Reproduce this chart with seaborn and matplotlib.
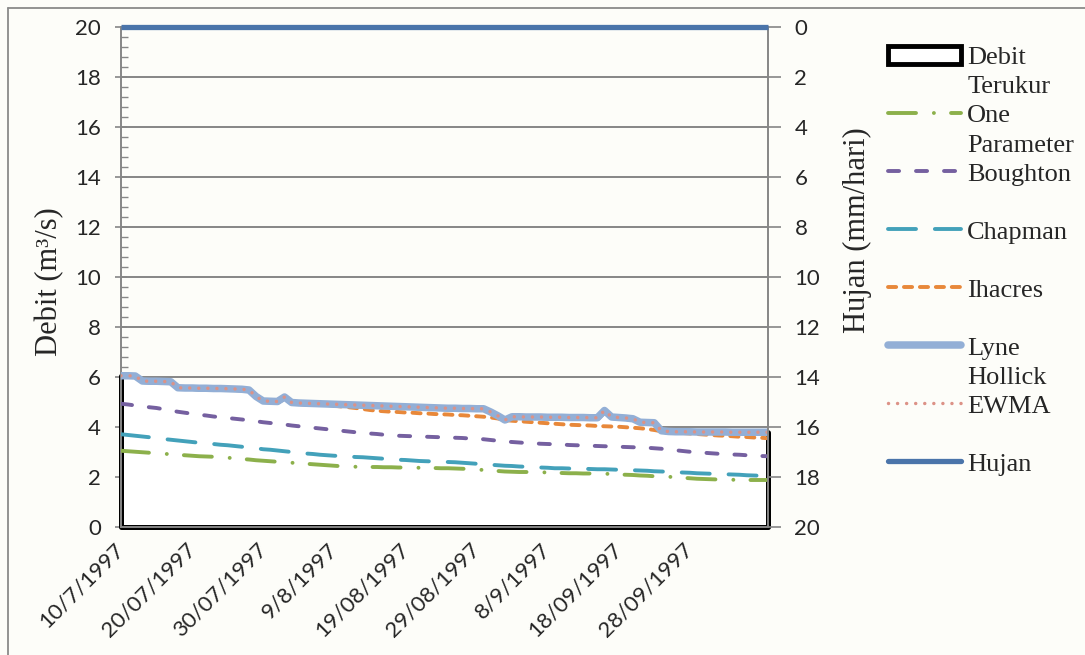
import numpy as np
import pandas as pd
import matplotlib
matplotlib.use("Agg")
import matplotlib.pyplot as plt
import seaborn as sns
from matplotlib.lines import Line2D
from matplotlib.patches import Patch
from matplotlib.ticker import MultipleLocator

# ---------------- data ----------------
start_date = "1997-07-10"
n_days = 92
tick_labels = ["10/7/1997", "20/07/1997", "30/07/1997", "9/8/1997", "19/08/1997",
               "29/08/1997", "8/9/1997", "18/09/1997", "28/09/1997"]

lyne_hollick = [6.05, 6.05, 6.04, 5.84, 5.83, 5.83, 5.82, 5.81, 5.57, 5.56,
                5.56, 5.55, 5.55, 5.54, 5.54, 5.53, 5.52, 5.51, 5.48, 5.22,
                5.04, 5.03, 5.02, 5.20, 4.98, 4.96, 4.95, 4.94, 4.93, 4.92,
                4.91, 4.90, 4.89, 4.88, 4.87, 4.86, 4.85, 4.84, 4.83, 4.82,
                4.81, 4.80, 4.79, 4.78, 4.77, 4.76, 4.75, 4.75, 4.74, 4.74,
                4.73, 4.73, 4.60, 4.45, 4.28, 4.41, 4.41, 4.40, 4.40, 4.40,
                4.39, 4.39, 4.39, 4.38, 4.38, 4.38, 4.37, 4.37, 4.66, 4.40,
                4.38, 4.36, 4.33, 4.19, 4.18, 4.17, 3.85, 3.82, 3.81, 3.81,
                3.81, 3.80, 3.80, 3.80, 3.80, 3.80, 3.79, 3.79, 3.79, 3.79,
                3.79, 3.79]
# observed discharge and EWMA coincide with Lyne Hollick in the picture
debit_terukur = list(lyne_hollick)
ewma = list(lyne_hollick)

ihacres = [6.05, 6.05, 6.04, 5.84, 5.83, 5.83, 5.82, 5.81, 5.57, 5.56,
           5.56, 5.55, 5.55, 5.54, 5.54, 5.53, 5.52, 5.51, 5.48, 5.22,
           5.04, 5.03, 5.02, 5.20, 4.98, 4.96, 4.95, 4.94, 4.93, 4.92,
           4.85, 4.82, 4.79, 4.76, 4.72, 4.68, 4.65, 4.63, 4.61, 4.60,
           4.58, 4.57, 4.55, 4.54, 4.52, 4.51, 4.50, 4.48, 4.47, 4.45,
           4.43, 4.41, 4.38, 4.34, 4.28, 4.25, 4.23, 4.21, 4.19, 4.17,
           4.15, 4.13, 4.11, 4.09, 4.08, 4.07, 4.06, 4.04, 4.03, 4.02,
           4.01, 3.99, 3.97, 3.95, 3.92, 3.88, 3.83, 3.80, 3.78, 3.76,
           3.74, 3.72, 3.70, 3.68, 3.66, 3.65, 3.63, 3.61, 3.60, 3.58,
           3.57, 3.55]

boughton = [4.93, 4.90, 4.86, 4.83, 4.79, 4.76, 4.71, 4.66, 4.61, 4.57,
            4.53, 4.49, 4.46, 4.42, 4.39, 4.36, 4.33, 4.30, 4.27, 4.23,
            4.19, 4.16, 4.13, 4.10, 4.06, 4.03, 4.00, 3.97, 3.94, 3.91,
            3.88, 3.85, 3.82, 3.79, 3.77, 3.74, 3.72, 3.69, 3.67, 3.65,
            3.64, 3.63, 3.62, 3.61, 3.60, 3.59, 3.58, 3.57, 3.56, 3.54,
            3.53, 3.51, 3.48, 3.45, 3.42, 3.40, 3.38, 3.36, 3.35, 3.33,
            3.32, 3.31, 3.30, 3.28, 3.27, 3.26, 3.25, 3.24, 3.23, 3.22,
            3.21, 3.20, 3.19, 3.18, 3.17, 3.15, 3.13, 3.10, 3.07, 3.04,
            3.01, 2.99, 2.97, 2.95, 2.93, 2.92, 2.90, 2.89, 2.87, 2.86,
            2.84, 2.83]

chapman = [3.71, 3.68, 3.65, 3.62, 3.59, 3.55, 3.52, 3.49, 3.46, 3.43,
           3.40, 3.37, 3.35, 3.32, 3.29, 3.27, 3.24, 3.21, 3.18, 3.15,
           3.11, 3.09, 3.06, 3.03, 3.00, 2.97, 2.94, 2.92, 2.89, 2.87,
           2.85, 2.84, 2.82, 2.80, 2.79, 2.77, 2.75, 2.73, 2.71, 2.69,
           2.68, 2.66, 2.64, 2.63, 2.62, 2.61, 2.60, 2.59, 2.57, 2.55,
           2.53, 2.51, 2.49, 2.47, 2.45, 2.44, 2.42, 2.41, 2.39, 2.38,
           2.37, 2.35, 2.35, 2.34, 2.33, 2.33, 2.32, 2.31, 2.31, 2.30,
           2.29, 2.28, 2.27, 2.26, 2.25, 2.23, 2.22, 2.21, 2.19, 2.18,
           2.17, 2.15, 2.14, 2.13, 2.12, 2.11, 2.10, 2.09, 2.07, 2.06,
           2.05, 2.04]

one_parameter = [3.05, 3.03, 3.01, 2.99, 2.97, 2.95, 2.93, 2.91, 2.89, 2.87,
                 2.85, 2.83, 2.82, 2.81, 2.80, 2.77, 2.75, 2.72, 2.70, 2.67,
                 2.65, 2.63, 2.61, 2.59, 2.57, 2.55, 2.53, 2.51, 2.49, 2.47,
                 2.45, 2.43, 2.42, 2.41, 2.41, 2.40, 2.40, 2.39, 2.39, 2.38,
                 2.38, 2.37, 2.37, 2.36, 2.36, 2.35, 2.35, 2.34, 2.33, 2.32,
                 2.30, 2.28, 2.26, 2.24, 2.22, 2.21, 2.20, 2.20, 2.19, 2.19,
                 2.18, 2.17, 2.16, 2.15, 2.15, 2.14, 2.14, 2.13, 2.13, 2.12,
                 2.10, 2.09, 2.08, 2.06, 2.05, 2.03, 2.02, 2.01, 1.99, 1.97,
                 1.95, 1.93, 1.92, 1.91, 1.90, 1.89, 1.89, 1.88, 1.88, 1.88,
                 1.88, 1.88]

hujan = [0.0] * n_days

# ---------------- styling ----------------
sns.set_style("white")
plt.rcParams["font.family"] = ["Lato", "DejaVu Sans"]
serif = ["Liberation Serif", "DejaVu Serif"]

BG = "#fdfdf9"
GRAY = "#868686"
C_GREEN = "#8cb04b"
C_PURPLE = "#7560a0"
C_TEAL = "#43a1ba"
C_ORANGE = "#e8883a"
C_LYNE = "#93afd6"
C_EWMA = "#dc9287"
C_HUJAN = "#4a74aa"

LW = 2.8
LS_GREEN = (0, (7.2, 4.6, 0.01, 4.4))
LS_PURPLE = (0, (2.85, 4.35))
LS_TEAL = (0, (7.2, 4.85))
LS_ORANGE = (0, (2.1, 2.0))
LS_EWMA = (0, (0.01, 2.6))
LW_LYNE = 5.4
LW_EWMA = 2.5
LW_HUJAN = 3.8

days = np.arange(n_days)
dates = pd.date_range(start_date, periods=n_days, freq="D")
df = pd.DataFrame({"day": days, "date": dates,
                   "debit_terukur": debit_terukur, "one_parameter": one_parameter,
                   "boughton": boughton, "chapman": chapman, "ihacres": ihacres,
                   "lyne_hollick": lyne_hollick, "ewma": ewma, "hujan": hujan})

W, H = 1085, 655
fig = plt.figure(figsize=(W / 100, H / 100), dpi=100, facecolor=BG)
L, R, T, B = 121, 768, 27, 527
ax = fig.add_axes([L / W, 1 - B / H, (R - L) / W, (B - T) / H])
ax.set_facecolor("none")

# observed discharge: white area with black outline
ax.fill_between(df["day"], 0, df["debit_terukur"], facecolor="white",
                edgecolor="black", linewidth=3.6, zorder=1.5, clip_on=False)

sns.lineplot(data=df, x="day", y="one_parameter", ax=ax, color=C_GREEN, lw=LW,
             linestyle=LS_GREEN, dash_capstyle="round", zorder=3)
sns.lineplot(data=df, x="day", y="boughton", ax=ax, color=C_PURPLE, lw=LW,
             linestyle=LS_PURPLE, dash_capstyle="round", zorder=3)
sns.lineplot(data=df, x="day", y="chapman", ax=ax, color=C_TEAL, lw=LW,
             linestyle=LS_TEAL, dash_capstyle="round", zorder=3)
sns.lineplot(data=df, x="day", y="ihacres", ax=ax, color=C_ORANGE, lw=LW,
             linestyle=LS_ORANGE, dash_capstyle="round", zorder=3)
sns.lineplot(data=df, x="day", y="lyne_hollick", ax=ax, color=C_LYNE, lw=LW_LYNE,
             solid_capstyle="round", solid_joinstyle="round", zorder=4)
sns.lineplot(data=df, x="day", y="ewma", ax=ax, color=C_EWMA, lw=LW_EWMA,
             linestyle=LS_EWMA, dash_capstyle="round", zorder=5)

ax.set_xlim(0, n_days - 1)
ax.set_ylim(0, 20)
ax.set_yticks(np.arange(0, 21, 2))
ax.yaxis.set_minor_locator(MultipleLocator(0.4))
ax.yaxis.grid(True, which="major", color=GRAY, lw=1.4)
ax.set_axisbelow(True)
ax.set_xticks(np.arange(0, 81, 10))
ax.set_xticklabels(tick_labels, rotation=45, ha="right", va="center",
                   rotation_mode="anchor", fontsize=16)
ax.tick_params(axis="x", length=0, pad=14)
ax.tick_params(axis="y", which="major", direction="inout", length=9, width=1.2,
               color=GRAY, labelsize=16, pad=10)
ax.tick_params(axis="y", which="minor", direction="in", length=5, width=1.0,
               color=GRAY)
for s in ["top", "right"]:
    ax.spines[s].set_visible(False)
for s in ["left", "bottom"]:
    ax.spines[s].set_color(GRAY)
    ax.spines[s].set_linewidth(1.4)
ax.set_xlabel("")
ax.set_ylabel("Debit (m³/s)", fontsize=22, family=serif)
ax.yaxis.set_label_coords((64 - L) / (R - L), (B - 282) / (B - T))

# rainfall on inverted secondary axis
ax2 = ax.twinx()
sns.lineplot(data=df, x="day", y="hujan", ax=ax2, color=C_HUJAN, lw=LW_HUJAN,
             solid_capstyle="butt", clip_on=False, zorder=6)
ax2.set_ylim(20, 0)
ax2.set_yticks(np.arange(0, 21, 2))
ax2.tick_params(axis="y", direction="out", length=9, width=1.2, color=GRAY,
                labelsize=16, pad=10)
for s in ["top", "left", "bottom"]:
    ax2.spines[s].set_visible(False)
ax2.spines["right"].set_color(GRAY)
ax2.spines["right"].set_linewidth(1.4)
ax2.set_ylabel("Hujan (mm/hari)", fontsize=22, family=serif)
ax2.yaxis.set_label_coords((843 - L) / (R - L), (B - 230) / (B - T))

# legend
blank = Line2D([], [], alpha=0)
handles = [
    Patch(facecolor="white", edgecolor="black", linewidth=3.5), blank,
    Line2D([], [], color=C_GREEN, lw=LW, linestyle=LS_GREEN, dash_capstyle="round"), blank,
    Line2D([], [], color=C_PURPLE, lw=LW, linestyle=LS_PURPLE, dash_capstyle="round"), blank,
    Line2D([], [], color=C_TEAL, lw=LW, linestyle=LS_TEAL, dash_capstyle="round"), blank,
    Line2D([], [], color=C_ORANGE, lw=LW, linestyle=LS_ORANGE, dash_capstyle="round"), blank,
    Line2D([], [], color=C_LYNE, lw=LW_LYNE, solid_capstyle="round"), blank,
    Line2D([], [], color=C_EWMA, lw=LW_EWMA, linestyle=LS_EWMA, dash_capstyle="round"), blank,
    Line2D([], [], color=C_HUJAN, lw=LW_HUJAN, solid_capstyle="round"),
]
labels = ["Debit", "Terukur", "One", "Parameter", "Boughton", " ", "Chapman", " ",
          "Ihacres", " ", "Lyne", "Hollick", "EWMA", " ", "Hujan"]
fig.legend(handles, labels, loc="upper left", bbox_to_anchor=(888 / W, 1 - 46 / H),
           frameon=False, prop={"family": serif, "size": 19}, handlelength=2.75,
           handletextpad=0.25, labelspacing=0.21, borderpad=0, borderaxespad=0)

# outer chart border (left and top edges visible)
fig.add_artist(Line2D([8 / W, 8 / W], [0, 1 - 8 / H], transform=fig.transFigure,
                      color="#8a8a8a", lw=1.3))
fig.add_artist(Line2D([8 / W, 1], [1 - 8 / H, 1 - 8 / H], transform=fig.transFigure,
                      color="#8a8a8a", lw=1.3))

fig.savefig("out.png", dpi=100, facecolor=BG)
